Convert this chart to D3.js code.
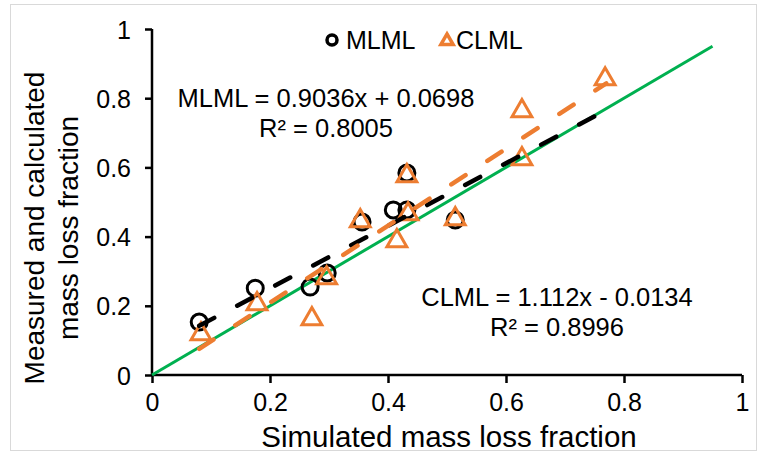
<!DOCTYPE html>
<html>
<head>
<meta charset="utf-8">
<style>
  body { margin: 0; background: #fff; font-family: "Liberation Sans", Arial, sans-serif; }
  svg text { fill: #000; }
</style>
</head>
<body>
<div id="chart"></div>
<script src="https://cdn.jsdelivr.net/npm/d3@7/dist/d3.min.js"></script>
<script>
// values
var mlmlX = [0.08, 0.175, 0.268, 0.297, 0.356, 0.409, 0.432, 0.432, 0.514];
var mlmlY = [0.153, 0.251, 0.254, 0.295, 0.442, 0.477, 0.477, 0.584, 0.448];
var clmlX = [0.083, 0.178, 0.271, 0.296, 0.353, 0.415, 0.434, 0.432, 0.514, 0.627, 0.627, 0.768];
var clmlY = [0.121, 0.208, 0.165, 0.283, 0.448, 0.39, 0.468, 0.578, 0.454, 0.766, 0.627, 0.858];
var mlmlFit = [0.9036, 0.0698]; // slope, intercept
var clmlFit = [1.112, -0.0134];
var fitRange = [0.08, 0.77];
var oneToOne = [0, 0.95];
var tickValues = [0, 0.2, 0.4, 0.6, 0.8, 1];
var tickLabels = ["0", "0.2", "0.4", "0.6", "0.8", "1"];

var width = 766, height = 455;
var orange = "#ED7D31", green = "#00B050";

var svg = d3.select("#chart").append("svg")
  .attr("width", width)
  .attr("height", height);

// light frame round the picture
svg.append("rect")
  .attr("x", 10.5).attr("y", 4.5)
  .attr("width", 746).attr("height", 446)
  .attr("fill", "none")
  .attr("stroke", "#d9d9d9");

var x = d3.scaleLinear().domain([0, 1]).range([152, 742]);
var y = d3.scaleLinear().domain([0, 1]).range([375, 29]);

// axes
var xAxis = svg.append("g")
  .attr("transform", "translate(0," + y(0) + ")")
  .call(d3.axisBottom(x).tickValues(tickValues).tickSize(8).tickPadding(10)
    .tickFormat(function(d, i) { return tickLabels[i]; }));
var yAxis = svg.append("g")
  .attr("transform", "translate(" + x(0) + ",0)")
  .call(d3.axisLeft(y).tickValues(tickValues).tickSize(7).tickPadding(14)
    .tickFormat(function(d, i) { return tickLabels[i]; }));

[xAxis, yAxis].forEach(function(a) {
  a.select(".domain").attr("stroke", "#000").attr("stroke-width", 2.5)
    .attr("d", a === xAxis ? "M" + x(0) + ",0H" + x(1) : "M0," + y(0) + "V" + y(1));
  a.selectAll(".tick line").attr("stroke", "#000").attr("stroke-width", 2.5);
  a.selectAll(".tick text")
    .style("font-family", "'Liberation Sans', Arial, sans-serif")
    .style("font-size", "25px");
});
xAxis.selectAll(".tick text").attr("dy", "0.71em");
yAxis.selectAll(".tick text").attr("dy", "0.36em");

// axis titles
svg.append("text")
  .attr("x", 449).attr("y", 447)
  .attr("text-anchor", "middle")
  .style("font-size", "29.5px")
  .text("Simulated mass loss fraction");

var yTitle = svg.append("text")
  .attr("transform", "translate(0,228) rotate(-90)")
  .attr("text-anchor", "middle")
  .style("font-size", "28px");
yTitle.append("tspan").attr("x", 0).attr("y", 44).text("Measured and calculated");
yTitle.append("tspan").attr("x", 0).attr("y", 78).text("mass loss fraction");

// 1:1 line
svg.append("line")
  .attr("x1", x(oneToOne[0])).attr("y1", y(oneToOne[0]))
  .attr("x2", x(oneToOne[1])).attr("y2", y(oneToOne[1]))
  .attr("stroke", green)
  .attr("stroke-width", 3);

// markers
var triangle = d3.symbol().type(d3.symbolTriangle).size(170);

svg.append("g").selectAll("circle")
  .data(mlmlX)
  .enter().append("circle")
  .attr("cx", function(d) { return x(d); })
  .attr("cy", function(d, i) { return y(mlmlY[i]); })
  .attr("r", 8)
  .attr("fill", "none")
  .attr("stroke", "#000")
  .attr("stroke-width", 3);

svg.append("g").selectAll("path")
  .data(clmlX)
  .enter().append("path")
  .attr("d", triangle)
  .attr("transform", function(d, i) { return "translate(" + x(d) + "," + (y(clmlY[i]) + 1) + ")"; })
  .attr("fill", "none")
  .attr("stroke", orange)
  .attr("stroke-width", 3);

// trendlines
function trend(fit, color) {
  svg.append("line")
    .attr("x1", x(fitRange[0])).attr("y1", y(fit[0] * fitRange[0] + fit[1]))
    .attr("x2", x(fitRange[1])).attr("y2", y(fit[0] * fitRange[1] + fit[1]))
    .attr("stroke", color)
    .attr("stroke-width", 4.5)
    .attr("stroke-linecap", "round")
    .attr("stroke-dasharray", "17,26");
}
trend(mlmlFit, "#000");
trend(clmlFit, orange);

// equations
var eq = [
  { cx: 326, y: 107, lines: ["MLML = 0.9036x + 0.0698", "R\u00b2 = 0.8005"] },
  { cx: 557, y: 306, lines: ["CLML = 1.112x - 0.0134", "R\u00b2 = 0.8996"] }
];
eq.forEach(function(e) {
  var t = svg.append("text").attr("text-anchor", "middle").style("font-size", "25.5px");
  e.lines.forEach(function(l, i) {
    t.append("tspan").attr("x", e.cx).attr("y", e.y + i * 30).text(l);
  });
});

// legend
var legend = svg.append("g");
legend.append("circle")
  .attr("cx", 332).attr("cy", 40).attr("r", 5)
  .attr("fill", "none").attr("stroke", "#000").attr("stroke-width", 3.5);
legend.append("text").attr("x", 346).attr("y", 49).style("font-size", "25px").text("MLML");
legend.append("path")
  .attr("d", d3.symbol().type(d3.symbolTriangle).size(65))
  .attr("transform", "translate(447,41)")
  .attr("fill", "none").attr("stroke", orange).attr("stroke-width", 3.5);
legend.append("text").attr("x", 456).attr("y", 49).style("font-size", "25px").text("CLML");
</script>
</body>
</html>
